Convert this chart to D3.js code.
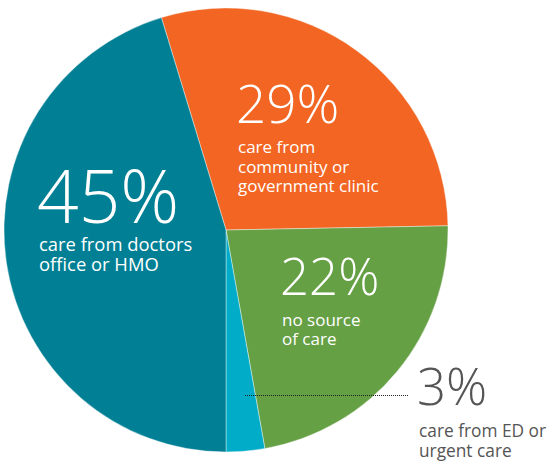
<!DOCTYPE html>
<html><head><meta charset="utf-8">
<script src="https://cdn.jsdelivr.net/npm/d3@7"></script>
<style>body{margin:0;background:#fff}svg{display:block}text{font-family:"Open Sans","Noto Sans",sans-serif}</style>
</head><body>
<svg id="c" width="554" height="464"></svg>
<script>
const categories = ["care from community or government clinic","no source of care","care from ED or urgent care","care from doctors office or HMO"];
const values = [29.4, 22.5, 2.8, 45.3];
const colors = ["#f26522", "#66a045", "#00acc8", "#017f94"];
const pctLabels = ["29%", "22%", "3%", "45%"];
const descLines = [["care from","community or","government clinic"],["no source","of care"],["care from ED or","urgent care"],["care from doctors","office or HMO"]];

const svg = d3.select("#c");
const cx = 226, cy = 230, r = 222;
const total = d3.sum(values);
const start = Math.PI - (values[0]+values[1]+values[2]) / total * 2 * Math.PI;
const pie = d3.pie().sort(null).value(d => d).startAngle(start).endAngle(start + 2*Math.PI);
const arc = d3.arc().innerRadius(0).outerRadius(r);
const g = svg.append("g").attr("transform", `translate(${cx},${cy})`);
g.selectAll("path").data(pie(values)).join("path")
  .attr("d", arc).attr("fill", (d,i) => colors[i])
  .attr("stroke", "#fff").attr("stroke-width", 0.4);

// label layout
const labels = [
  {x:236, y:123, size:53, fs:17, off:30, lh:19.5, fill:"#fff"},
  {x:280, y:295, size:51, fs:17, off:30.5, lh:19.5, fill:"#fff"},
  {x:417, y:405, size:51, fs:17.3, off:32, lh:20, fill:"#555"},
  {x:37, y:223, size:73, fs:18.4, off:27.5, lh:20, fill:"#fff"}
];
labels.forEach((L,i) => {
  svg.append("text").attr("x", L.x).attr("y", L.y).attr("font-size", L.size)
    .attr("font-weight", 300).attr("fill", L.fill).text(pctLabels[i]);
  descLines[i].forEach((t,j) => {
    svg.append("text").attr("x", L.x + 2).attr("y", L.y + L.off + j*L.lh)
      .attr("font-size", L.fs).attr("fill", L.fill).text(t);
  });
});
// dotted leader for 3%
svg.append("line").attr("x1", 245).attr("x2", 408).attr("y1", 395.5).attr("y2", 395.5)
  .attr("stroke", "#222").attr("stroke-width", 1).attr("stroke-dasharray", "1,1");
</script>
</body></html>
